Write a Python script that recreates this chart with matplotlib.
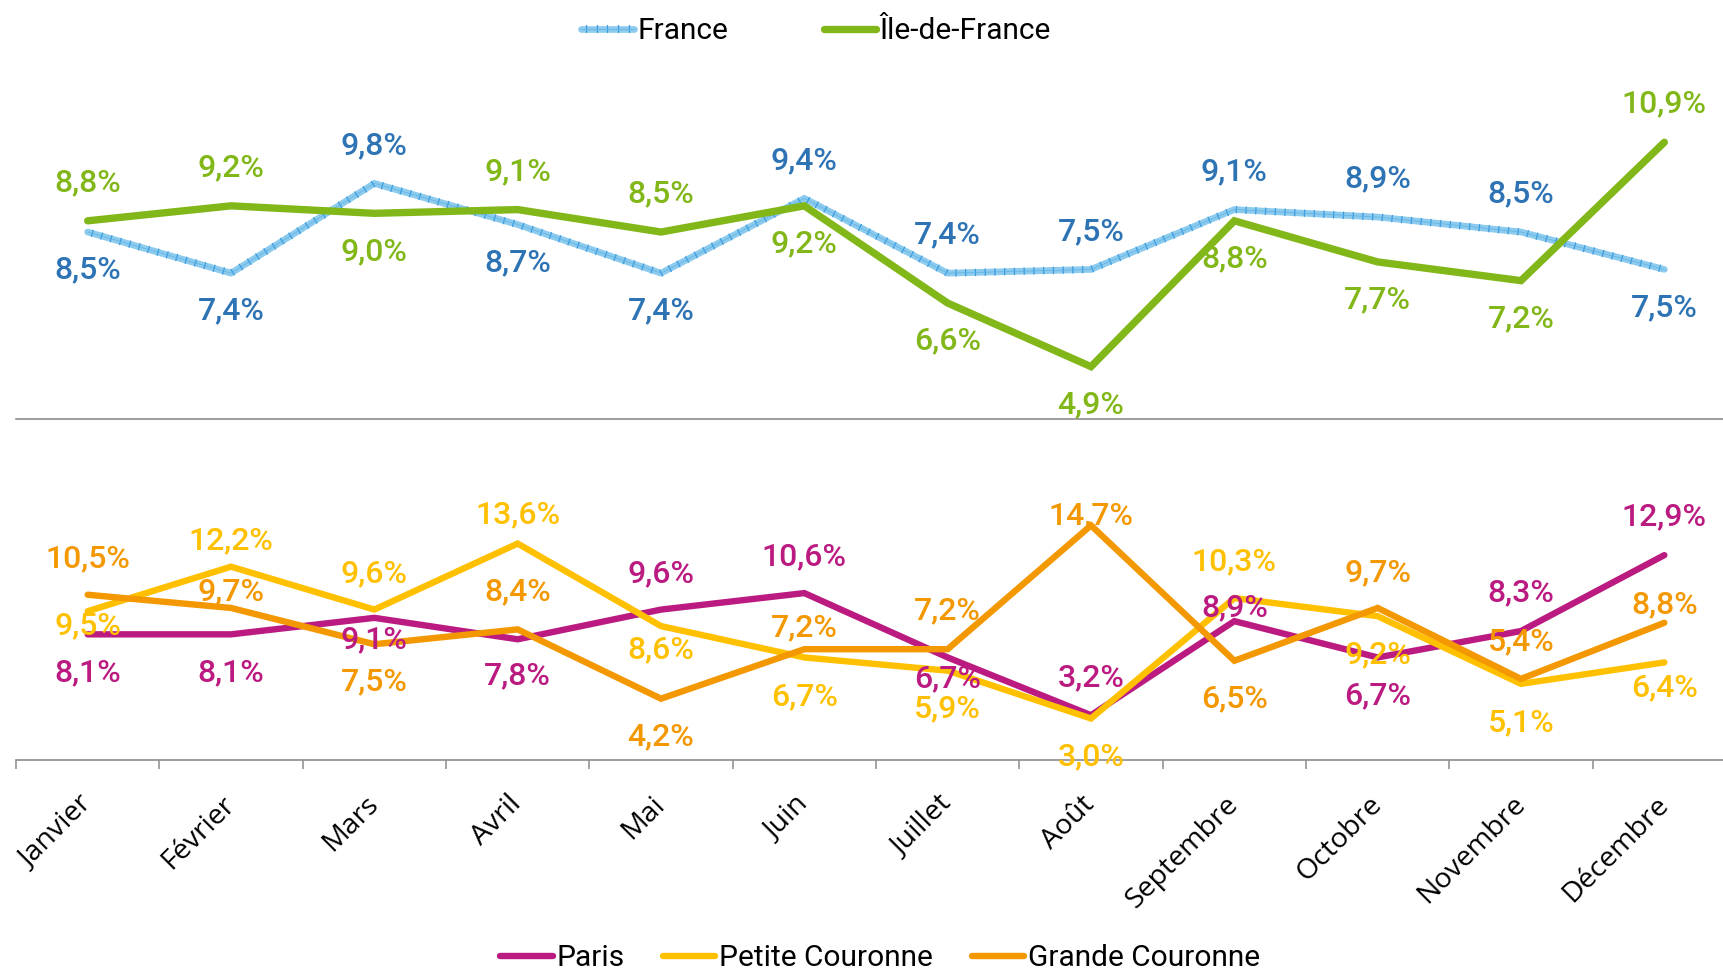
import matplotlib
matplotlib.use("Agg")
import matplotlib.pyplot as plt
import matplotlib.patheffects as pe
import numpy as np

# ---------------- data ----------------
months = ["Janvier", "Février", "Mars", "Avril", "Mai", "Juin", "Juillet",
          "Août", "Septembre", "Octobre", "Novembre", "Décembre"]
france = [8.5, 7.4, 9.8, 8.7, 7.4, 9.4, 7.4, 7.5, 9.1, 8.9, 8.5, 7.5]
idf = [8.8, 9.2, 9.0, 9.1, 8.5, 9.2, 6.6, 4.9, 8.8, 7.7, 7.2, 10.9]
paris = [8.1, 8.1, 9.1, 7.8, 9.6, 10.6, 6.7, 3.2, 8.9, 6.7, 8.3, 12.9]
petite = [9.5, 12.2, 9.6, 13.6, 8.6, 6.7, 5.9, 3.0, 10.3, 9.2, 5.1, 6.4]
grande = [10.5, 9.7, 7.5, 8.4, 4.2, 7.2, 7.2, 14.7, 6.5, 9.7, 5.4, 8.8]

# label vertical offsets (pixels, + = below the point)
off_france = [38, 38, -38, 38, 38, -38, -38, -38, -38, -38, -38, 38]
off_idf = [-38, -38, 38, -38, -38, 38, 38, 38, 38, 38, 38, -38]
off_paris = [38, 38, 22, 37, -36, -36, 21, -37, -13, 38, -38, -38]
off_petite = [15, -26, -36, -29, 24, 39, 38, 38, -36, 39, 39, 25]
off_grande = [-36, -16, 38, -38, 38, -21, -38, -10, 38, -35, -37, -18]

# ---------------- style ----------------
C_FR_LINE = "#8ccbee"
C_FR_TICK = "#3a9be0"
C_FR_LABEL = "#2e74b5"
C_IDF = "#82b719"
C_PARIS = "#bb1b80"
C_PETITE = "#ffc000"
C_GRANDE = "#f39800"
C_AXIS = "#8c8c8c"

LABEL_FONT = "Roboto"
W, H = 1724, 969
fig = plt.figure(figsize=(W / 100, H / 100), dpi=100)

left = 16 / W
width = 1720 / W
ax_top = fig.add_axes([left, 1 - 419 / H, width, (419 - 60) / H])
ax_bot = fig.add_axes([left, 1 - 760 / H, width, (760 - 419) / H])

x = np.arange(len(months))

france_fx = [pe.Normal(),
             pe.TickedStroke(angle=90, spacing=7, length=0.33, linewidth=0.9, foreground=C_FR_TICK),
             pe.TickedStroke(angle=-90, spacing=7, length=0.33, linewidth=0.9, foreground=C_FR_TICK),
             pe.Stroke(linewidth=0.5, foreground="#5fb2e4")]

l_fr, = ax_top.plot(x, france, color=C_FR_LINE, lw=4.8, solid_capstyle="round",
                    solid_joinstyle="miter", path_effects=france_fx, zorder=2, label="France")
l_idf, = ax_top.plot(x, idf, color=C_IDF, lw=5.3, solid_capstyle="round",
                     solid_joinstyle="miter", zorder=3, label="Île-de-France")

l_pa, = ax_bot.plot(x, paris, color=C_PARIS, lw=4.6, solid_capstyle="round",
                    solid_joinstyle="miter", zorder=2, label="Paris")
l_pc, = ax_bot.plot(x, petite, color=C_PETITE, lw=4.6, solid_capstyle="round",
                    solid_joinstyle="miter", zorder=3, label="Petite Couronne")
l_gc, = ax_bot.plot(x, grande, color=C_GRANDE, lw=4.6, solid_capstyle="round",
                    solid_joinstyle="miter", zorder=4, label="Grande Couronne")


def fmt(v):
    return f"{v:.1f}".replace(".", ",") + "%"


def labels(ax, vals, offs, color):
    for xi, v, o in zip(x, vals, offs):
        ax.annotate(fmt(v), (xi, v), xytext=(0, -o * 0.72), textcoords="offset points",
                    ha="center", va="center", color=color, fontsize=23, fontweight=500,
                    family=LABEL_FONT, zorder=10, annotation_clip=False)


labels(ax_top, france, off_france, C_FR_LABEL)
labels(ax_top, idf, off_idf, C_IDF)
labels(ax_bot, paris, off_paris, C_PARIS)
labels(ax_bot, petite, off_petite, C_PETITE)
labels(ax_bot, grande, off_grande, C_GRANDE)

# ---------------- axes ----------------
ax_top.set_xlim(-0.5, 11.5)
ax_top.set_ylim(3.5, 13.1)
ax_bot.set_xlim(-0.5, 11.5)
ax_bot.set_ylim(0.485, 21.15)

for ax in (ax_top, ax_bot):
    for s in ("top", "right", "left"):
        ax.spines[s].set_visible(False)
    ax.spines["bottom"].set_color(C_AXIS)
    ax.spines["bottom"].set_linewidth(1.2)
    ax.set_yticks([])
    ax.patch.set_alpha(0)

ax_top.set_xticks([])

ax_bot.set_xticks(np.arange(-0.5, 12.0, 1.0))
ax_bot.set_xticklabels([])
ax_bot.tick_params(axis="x", which="major", length=6.5, width=1.1, color=C_AXIS, direction="out")
ax_bot.set_xticks(x, minor=True)
ax_bot.set_xticklabels(months, minor=True, rotation=45, ha="right", va="center",
                       rotation_mode="anchor", family="Open Sans", fontsize=20.5)
ax_bot.tick_params(axis="x", which="minor", length=0, pad=29)

# ---------------- legends ----------------
leg_kw = dict(frameon=False, handlelength=1.75, handletextpad=0.12,
              prop={"family": "Roboto", "size": 21.5})
fig.legend(handles=[l_fr, l_idf], loc="center", bbox_to_anchor=(816 / W, 1 - 31 / H),
           ncol=2, columnspacing=3.2, **leg_kw)
fig.legend(handles=[l_pa, l_pc, l_gc], loc="center", bbox_to_anchor=(880 / W, 1 - 958 / H),
           ncol=3, columnspacing=1.3, **leg_kw)

fig.savefig("out.png", dpi=100)
